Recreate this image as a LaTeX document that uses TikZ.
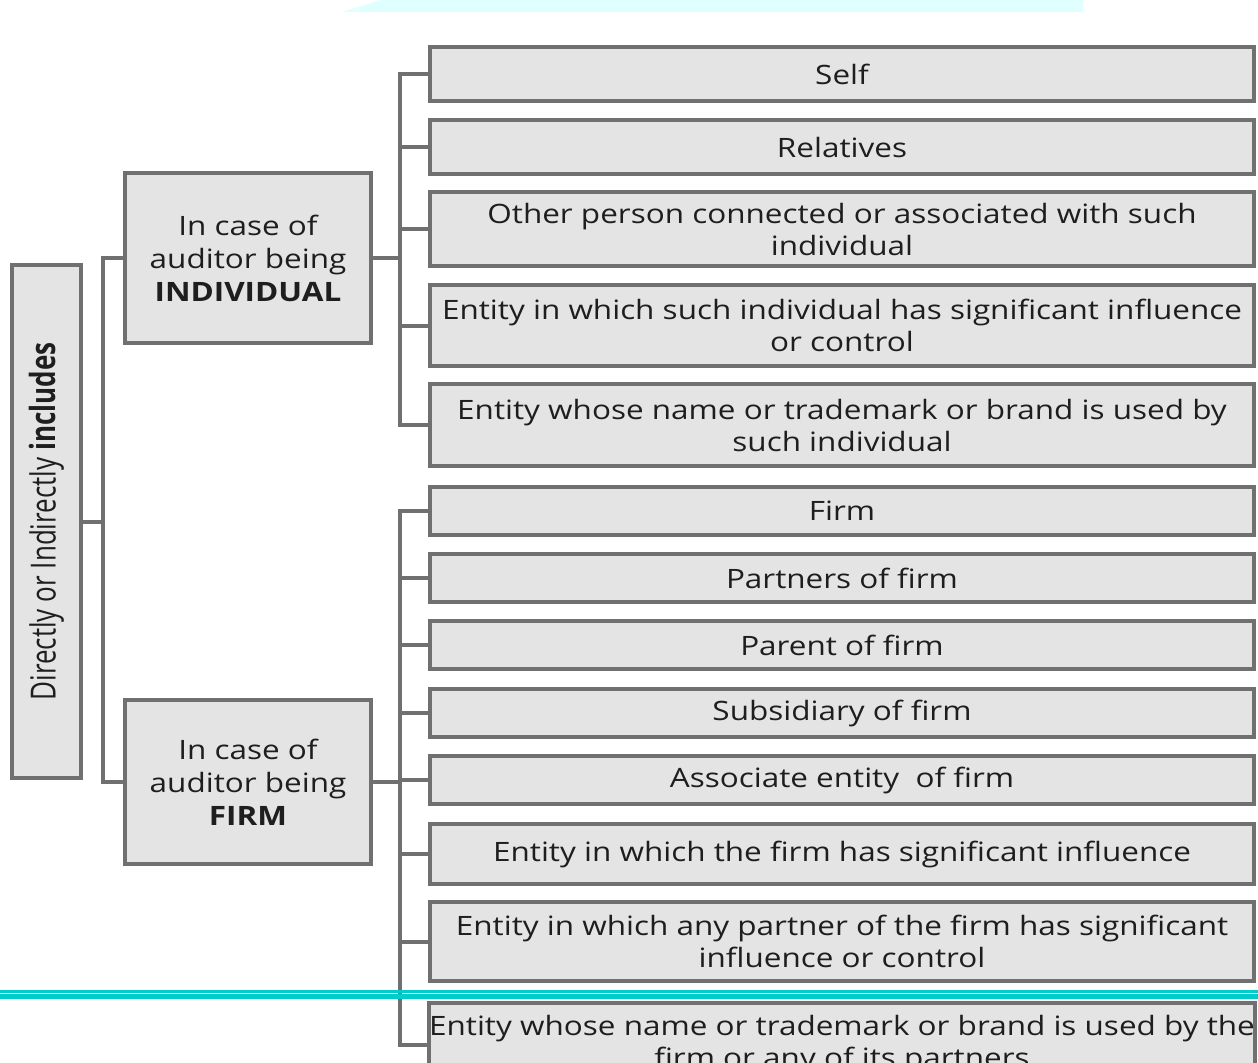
\documentclass[tikz,border=0pt]{standalone}
\usepackage{fontspec}
\usepackage{graphicx}
\setmainfont[FakeStretch=1.18]{Open Sans}
\newfontfamily\plainfont{Open Sans}
\definecolor{boxfill}{HTML}{E4E4E4}
\definecolor{boxline}{HTML}{707070}
\definecolor{txt}{HTML}{1E1E1E}
\definecolor{cyanline}{HTML}{00CCCC}
\definecolor{cyanfill}{HTML}{E0FFFF}
\begin{document}
\begin{tikzpicture}[x=0.75pt,y=-0.75pt,
  box/.style={draw=boxline, fill=boxfill, line width=3pt, inner sep=0pt,
    align=center, text=txt, font=\fontsize{20}{24}\selectfont},
  item/.style={box, minimum width=618pt, minimum height=#1*0.75pt},
  midbox/.style={box, minimum width=184.5pt, minimum height=#1*0.75pt,
    font=\fontsize{20}{24.75}\selectfont},
  conn/.style={draw=boxline, line width=3pt}]
\useasboundingbox (0,0) rectangle (1258,1063);
\clip (0,0) rectangle (1258,1063);

\coordinate (s0) at (103,0);
\coordinate (s1) at (400,0);

% root
\node[box, minimum width=51.75pt, minimum height=384.75pt] (root) at (46.5,521.5) {};
\node[rotate=90, text=txt, inner sep=0pt] (roottext) at (root.center)
  {\scalebox{0.75}[1]{\plainfont\fontsize{26}{30}\selectfont Directly or Indirectly \textbf{includes}}};

% middle
\node[midbox=170] (ind) at (248,258) {In case of\\auditor being\\\textbf{INDIVIDUAL}};
\node[midbox=164] (frm) at (248,782) {In case of\\auditor being\\\textbf{FIRM}};

% right items
\node[item=54] (b1) at (842,74) {Self};
\node[item=54] (b2) at (842,147) {Relatives};
\node[item=74] (b3) at (842,229) {Other person connected or associated with such\\individual};
\node[item=81] (b4) at (842,325.5) {Entity in which such individual has significant influence\\or control};
\node[item=82] (b5) at (842,425) {Entity whose name or trademark or brand is used by\\such individual};
\node[item=48] (b6) at (842,511) {Firm};
\node[item=48] (b7) at (842,578) {Partners of firm};
\node[item=48] (b8) at (842,645) {Parent of firm};
\node[item=48] (b9) at (842,713) {Subsidiary of firm};
\node[item=48] (b10) at (842,780) {Associate entity\ \ of firm};
\node[item=60] (b11) at (842,854) {Entity in which the firm has significant influence};
\node[item=79] (b12) at (842,941.5) {Entity in which any partner of the firm has significant\\influence or control};
\node[item=84] (b13) at (842,1045) {Entity whose name or trademark or brand is used by the\\firm or any of its partners};

% connectors
\draw[conn] (root.east) -- (root.east -| s0);
\draw[conn] (ind.west) -- (ind.west -| s0) -- (frm.west -| s0) -- (frm.west);
\draw[conn] (ind.east) -- (ind.east -| s1);
\draw[conn] (b1.west) -- (b1.west -| s1) -- (b5.west -| s1) -- (b5.west);
\foreach \b in {b2,b3,b4} \draw[conn] (\b.west) -- (\b.west -| s1);
\draw[conn] (frm.east) -- (frm.east -| s1);
\draw[conn] (b6.west) -- (b6.west -| s1) -- (b13.west -| s1) -- (b13.west);
\foreach \b in {b7,b8,b9,b10,b11,b12} \draw[conn] (\b.west) -- (\b.west -| s1);

% cyan decorations
\fill[cyanfill] (342,12) -- (380,0) -- (1083,0) -- (1083,12) -- cycle;
\fill[cyanline] (0,990) rectangle (1258,992.5);
\fill[cyanline] (0,994) rectangle (1258,999);
\end{tikzpicture}
\end{document}
